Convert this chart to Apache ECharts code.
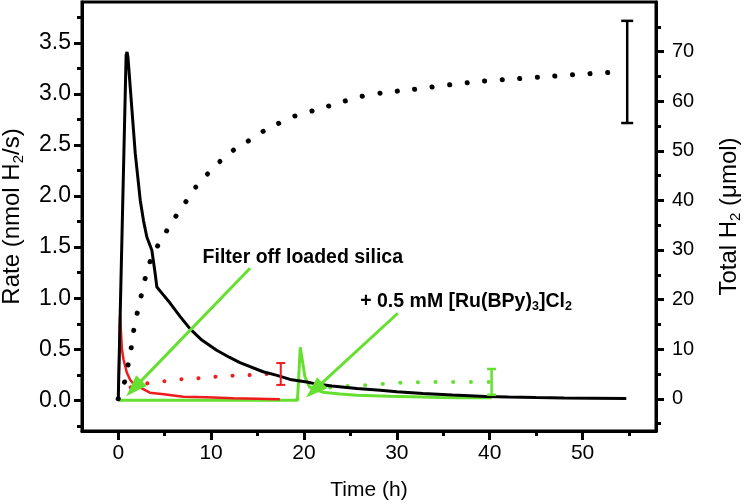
<!DOCTYPE html>
<html>
<head>
<meta charset="utf-8">
<script src="https://cdn.jsdelivr.net/npm/echarts@6/dist/echarts.min.js"></script>
<style>html,body{margin:0;padding:0;background:#fff;}#c{width:746px;height:504px;}</style>
</head>
<body>
<div id="c"></div>
<script>
// ---- data (x in h) ----
const blackRate = [[0,0],[0.85,3.38],[0.95,3.41],[1.05,3.36],[1.29,3.07],[1.83,2.42],[2.37,1.96],[2.72,1.76],[3.08,1.6],[3.62,1.47],[3.98,1.24],[4.16,1.11],[4.7,1.05],[5.6,0.95],[6.67,0.82],[7.74,0.70],[9,0.59],[10.6,0.49],[12,0.42],[13.1,0.37],[15.6,0.28],[17.1,0.245],[18.5,0.205],[20.3,0.18],[21,0.166],[23,0.14],[25.7,0.115],[28.2,0.10],[30,0.085],[32.8,0.068],[36,0.052],[39.6,0.038],[42,0.032],[45,0.027],[48,0.023],[51,0.02],[54.7,0.017]];
const blackTotal = [[0,0],[0.75,3.8],[1.1,7.2],[1.4,10.3],[1.65,13.6],[2.0,16.9],[2.5,21],[3.0,25],[3.6,28.5],[4.3,31],[5.2,33.8],[6.1,36.5],[7.2,39.5],[8.1,42.1],[9.35,44.8],[10.6,47.2],[12,49.6],[13.7,51.6],[15.3,53.6],[16.9,55.2],[19,57],[21.4,58.3],[24,59.8],[26,60.9],[28.5,61.7],[31.4,62.3],[33.5,62.8],[35.7,63.3],[39.1,64.0],[42.8,64.5],[46.5,65.0],[50.3,65.5],[54,65.9]];
const redRate = [[0,0],[0.2,0.83],[0.4,0.5],[0.57,0.4],[0.93,0.27],[1.3,0.2],[1.65,0.16],[2.7,0.11],[3.4,0.075],[4.9,0.06],[7,0.035],[9.5,0.03],[12.4,0.02],[15,0.015],[17.4,0.01]];
const redTotal = [[0,0],[0.3,0.5],[0.6,1.3],[1,2.0],[1.5,2.4],[2.3,2.8],[3.4,3.2],[5.2,3.6],[7.2,4.0],[9,4.2],[10.9,4.5],[12.8,4.7],[14.5,4.8],[16.1,5.0],[17.4,5.0]];
const greenRate = [[0,0],[19.3,0],[19.6,0.52],[20.1,0.23],[20.6,0.13],[21.4,0.1],[22,0.08],[23.9,0.062],[25.7,0.05],[29.2,0.04],[32.8,0.033],[34.6,0.028],[37,0.026],[40.2,0.026]];
const greenTotal = [[19.3,0],[19.8,0.6],[20.5,1.4],[21.5,1.9],[22.5,2.2],[24.2,2.5],[26.2,2.7],[28.2,2.96],[30,3.2],[31.9,3.3],[33.7,3.4],[35.5,3.4],[37.3,3.4],[38.6,3.4],[40.2,3.4]];
// error bars: [x, low, high]
const blackErr = [[54.8,55.6,76.2]];
const redErr = [[17.5,2.8,7.2]];
const greenErr = [[40.2,0.8,6.0]];
// tick labels
const xMajor = [0,10,20,30,40,50];
const xMinor = [5,15,25,35,45,55];
const leftMajor = [0,0.5,1.0,1.5,2.0,2.5,3.0,3.5];
const leftMinor = [-0.25,0.25,0.75,1.25,1.75,2.25,2.75,3.25,3.75];
const rightMajor = [0,10,20,30,40,50,60,70];
const rightMinor = [-5,5,15,25,35,45,55,65,75];
// annotations
const arrow1 = [[14.19,1.294],[1.69,0.117]];
const arrow2 = [[30.1,0.853],[21.1,0.10]];
const label1 = {x:9.03, y:1.40, text:'Filter off loaded silica'};
const label2 = {x:26.0, y:0.97};

const FONT = 'Liberation Sans, Arial, Helvetica, sans-serif';
const BLACK='#000', RED='#ee1c1c', GREEN='#66e030';

function errSeries(data, color, lw, cap){
  return {type:'custom', xAxisIndex:0, yAxisIndex:1, z:5, silent:true,
    renderItem:function(params, api){
      const x=api.value(0), lo=api.coord([x,api.value(1)]), hi=api.coord([x,api.value(2)]);
      const st={stroke:color, lineWidth:lw};
      return {type:'group', children:[
        {type:'line', shape:{x1:lo[0],y1:lo[1],x2:hi[0],y2:hi[1]}, style:st},
        {type:'line', shape:{x1:lo[0]-cap,y1:lo[1],x2:lo[0]+cap,y2:lo[1]}, style:st},
        {type:'line', shape:{x1:hi[0]-cap,y1:hi[1],x2:hi[0]+cap,y2:hi[1]}, style:st}
      ]};
    },
    encode:{x:0,y:[1,2]}, data:data};
}

const chart = echarts.init(document.getElementById('c'), null, {renderer:'canvas'});
const tickStyle = {color:BLACK, width:3};
const option = {
  animation:false,
  backgroundColor:'#fff',
  textStyle:{fontFamily:FONT},
  grid:{left:82, right:90, top:2, bottom:73, show:true, borderColor:BLACK, borderWidth:3, containLabel:false, outerBoundsMode:'none'},
  xAxis:[
    {type:'value', min:-3.9, max:57.9, position:'bottom',
     axisLine:{show:true, onZero:false, lineStyle:{color:BLACK,width:3}},
     axisTick:{show:true, customValues:xMajor, length:9, lineStyle:tickStyle},
     axisLabel:{customValues:xMajor, fontSize:21, color:BLACK, margin:12, fontFamily:FONT},
     splitLine:{show:false},
     name:'Time (h)', nameLocation:'middle', nameGap:49,
     nameTextStyle:{fontSize:21, color:BLACK, fontFamily:FONT}},
    {type:'value', min:-3.9, max:57.9, position:'bottom',
     axisLine:{show:false, onZero:false}, axisLabel:{show:false}, splitLine:{show:false},
     axisTick:{show:true, customValues:xMinor, length:5, lineStyle:tickStyle}}
  ],
  yAxis:[
    {type:'value', min:-0.3, max:3.9, position:'left',
     axisLine:{show:true, onZero:false, lineStyle:{color:BLACK,width:3}},
     axisTick:{show:true, customValues:leftMajor, length:8, lineStyle:tickStyle},
     axisLabel:{customValues:leftMajor, fontSize:23, color:BLACK, margin:11, fontFamily:FONT,
       formatter:function(v){return Number(v).toFixed(1);}},
     splitLine:{show:false},
     name:'{a|Rate (nmol H}{s|2}{a|/s)}', nameLocation:'middle', nameGap:56, nameRotate:90,
     nameTextStyle:{fontFamily:FONT, color:BLACK, fontSize:24,
       rich:{a:{fontSize:24, fontFamily:FONT, color:BLACK}, s:{fontSize:15, fontFamily:FONT, color:BLACK, verticalAlign:'top', padding:[12,0,0,0]}}}},
    {type:'value', min:-6.5, max:80, position:'right',
     axisLine:{show:true, onZero:false, lineStyle:{color:BLACK,width:3}},
     axisTick:{show:true, customValues:rightMajor, length:8, lineStyle:tickStyle},
     axisLabel:{customValues:rightMajor, fontSize:20, color:BLACK, margin:16, fontFamily:FONT},
     splitLine:{show:false},
     name:'{a|Total H}{s|2}{a| (\u03bcmol)}', nameLocation:'middle', nameGap:60, nameRotate:90,
     nameTextStyle:{fontFamily:FONT, color:BLACK, fontSize:24,
       rich:{a:{fontSize:24, fontFamily:FONT, color:BLACK}, s:{fontSize:15, fontFamily:FONT, color:BLACK, verticalAlign:'top', padding:[12,0,0,0]}}}},
    {type:'value', min:-0.3, max:3.9, position:'left',
     axisLine:{show:false, onZero:false}, axisLabel:{show:false}, splitLine:{show:false},
     axisTick:{show:true, customValues:leftMinor, length:5, lineStyle:tickStyle}},
    {type:'value', min:-6.5, max:80, position:'right',
     axisLine:{show:false, onZero:false}, axisLabel:{show:false}, splitLine:{show:false},
     axisTick:{show:true, customValues:rightMinor, length:5, lineStyle:tickStyle}}
  ],
  series:[
    {type:'line', name:'greenRate', data:greenRate, xAxisIndex:0, yAxisIndex:0, showSymbol:false, z:2,
     lineStyle:{color:GREEN, width:3}},
    {type:'line', name:'redRate', data:redRate, xAxisIndex:0, yAxisIndex:0, showSymbol:false, z:3,
     lineStyle:{color:RED, width:2.5}},
    {type:'line', name:'blackRate', data:blackRate, xAxisIndex:0, yAxisIndex:0, showSymbol:false, z:4,
     lineStyle:{color:BLACK, width:3}},
    {type:'line', name:'blackTotal', data:blackTotal, xAxisIndex:0, yAxisIndex:1, showSymbol:false, smooth:0.3, z:4,
     lineStyle:{color:BLACK, width:5, type:[0.1,17.5], cap:'round'}},
    {type:'line', name:'redTotal', data:redTotal, xAxisIndex:0, yAxisIndex:1, showSymbol:false, smooth:0.3, z:3,
     lineStyle:{color:RED, width:4, type:[0.1,17], cap:'round'}},
    {type:'line', name:'greenTotal', data:greenTotal, xAxisIndex:0, yAxisIndex:1, showSymbol:false, smooth:0.3, z:3,
     lineStyle:{color:GREEN, width:4, type:[0.1,17.5], cap:'round'}},
    errSeries(blackErr, BLACK, 2.5, 6),
    errSeries(redErr, RED, 2, 4.5),
    errSeries(greenErr, GREEN, 2.5, 4.5),
    {type:'line', name:'annot', data:[], xAxisIndex:0, yAxisIndex:0, z:10, silent:true,
     markLine:{silent:true, animation:false, symbol:['none','triangle'], symbolSize:[15,22],
       lineStyle:{color:GREEN, width:3, type:'solid'}, label:{show:false},
       emphasis:{disabled:true},
       data:[
         [{coord:arrow1[0]},{coord:arrow1[1]}],
         [{coord:arrow2[0]},{coord:arrow2[1]}]
       ]},
     markPoint:{silent:true, animation:false, symbol:'circle', symbolSize:1, itemStyle:{color:'rgba(0,0,0,0)'},
       label:{show:true, position:'right', distance:0, color:BLACK, fontFamily:FONT, fontWeight:'bold', fontSize:19.5,
         rich:{b:{fontSize:19.5, fontWeight:'bold', fontFamily:FONT, color:BLACK},
               s:{fontSize:12.5, fontWeight:'bold', fontFamily:FONT, color:BLACK, verticalAlign:'top', padding:[11,0,0,0]}}},
       data:[
         {coord:[label1.x,label1.y], value:0, label:{formatter:'{b|'+label1.text+'}'}},
         {coord:[label2.x,label2.y], value:0, label:{formatter:'{b|+ 0.5 mM [Ru(BPy)}{s|3}{b|]Cl}{s|2}'}}
       ]}}
  ]
};
chart.setOption(option);
</script>
</body>
</html>
